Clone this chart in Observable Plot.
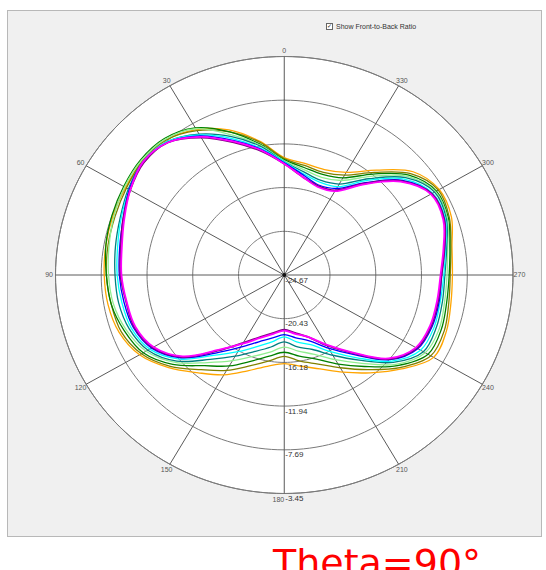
<!DOCTYPE html>
<html><head><meta charset="utf-8">
<script src="https://cdn.jsdelivr.net/npm/d3@7"></script>
<script src="https://cdn.jsdelivr.net/npm/@observablehq/plot@0.6"></script>
<style>
body{margin:0;background:#fff;width:546px;height:570px;overflow:hidden;position:relative;font-family:"Liberation Sans",Arial,sans-serif;}
#chart svg{display:block}
#title{position:absolute;left:273px;top:544px;font-family:"DejaVu Sans";font-size:38px;line-height:1;color:#ff0000;white-space:nowrap}
#cb{position:absolute;left:326px;top:23px;font-size:7px;color:#333;display:flex;align-items:center;gap:3px;white-space:nowrap}
#cb .box{width:5px;height:5px;border:1px solid #666;background:#fff;font-size:6px;line-height:5px;text-align:center;color:#222}
</style></head><body>
<div id="chart"></div>
<div id="cb"><span class="box">✓</span><span>Show Front-to-Back Ratio</span></div>
<div id="title">Theta=90°</div>
<script>
// angle (deg, counter-clockwise from top) of every sample
const angles = [0,10,20,30,40,50,60,70,80,90,100,110,120,130,140,150,160,170,180,190,200,210,220,230,240,250,260,270,280,290,300,310,320,330,340,350];
// levels are given in dB above the chart minimum
const rMin = -24.67;
const rMax = -3.45;
const ringLabels = ["-24.67","-20.43","-16.18","-11.94","-7.69","-3.45"];
const ringValues = [-24.67,-20.43,-16.18,-11.94,-7.69,-3.45];
const spokeAngles = [0,30,60,90,120,150,180,210,240,270,300,330];
const spokeLabels = ["0","30","60","90","120","150","180","210","240","270","300","330"];

const orange     = [11.4,13.2,15.0,16.3,17.1,17.2,17.0,16.9,16.8,16.7,16.6,16.3,15.5,14.0,12.4,11.2,9.9,9.0,8.6,9.0,9.7,10.9,12.4,14.2,16.0,16.0,15.7,15.6,15.8,16.5,16.6,15.6,13.3,11.5,10.9,11.0];
const olive      = [11.3,13.1,14.8,16.2,17.1,17.2,16.9,16.7,16.6,16.5,16.3,16.1,15.3,13.8,12.0,10.7,9.4,8.5,7.9,8.5,9.2,10.4,12.0,14.0,15.7,15.8,15.5,15.4,15.7,16.3,16.5,15.3,13.0,11.2,10.6,10.8];
const green      = [11.2,12.9,14.8,16.5,17.3,17.4,17.2,17.0,16.8,16.5,16.3,15.8,15.1,13.5,11.5,10.2,8.9,8.0,7.5,8.0,8.7,10.0,11.6,13.7,15.4,15.5,15.3,15.3,15.6,16.2,16.3,15.1,12.8,10.9,10.4,10.6];
const lightgreen = [11.1,12.8,14.5,16.4,17.2,17.3,17.1,16.8,16.5,16.3,16.1,15.6,14.8,13.2,11.1,9.6,8.4,7.6,7.0,7.5,8.2,9.5,11.2,13.5,15.1,15.3,15.1,15.1,15.4,16.1,16.2,14.9,12.5,10.6,10.1,10.4];
const teal       = [11.0,12.7,14.3,15.8,16.9,17.1,16.7,16.2,15.9,15.7,15.6,15.3,14.6,13.0,10.7,9.1,7.9,7.1,6.5,7.1,7.7,9.0,10.8,13.2,14.9,15.0,14.9,14.9,15.3,16.0,16.1,14.7,12.2,10.2,9.8,10.2];
const cyan       = [11.0,12.5,14.1,15.7,16.9,17.1,16.6,16.1,15.7,15.5,15.3,15.1,14.4,12.7,10.2,8.6,7.4,6.6,6.0,6.6,7.2,8.6,10.5,13.0,14.6,14.8,14.7,14.8,15.2,15.9,15.9,14.5,12.0,9.9,9.6,10.0];
const blue       = [10.9,12.4,13.9,15.6,16.8,17.1,16.6,15.9,15.5,15.3,15.1,14.9,14.2,12.5,9.9,8.1,6.9,6.2,5.8,6.2,6.8,8.2,10.1,12.8,14.3,14.6,14.6,14.6,15.1,15.8,15.8,14.3,11.7,9.7,9.3,9.9];
const purple     = [10.8,12.2,13.7,15.4,16.8,17.0,16.5,15.9,15.4,15.2,14.9,14.8,14.1,12.4,9.6,7.6,6.4,5.7,5.3,5.7,6.4,7.9,9.9,12.7,14.2,14.5,14.5,14.6,15.1,15.8,15.8,14.2,11.6,9.5,9.2,9.7];
const magenta    = [10.8,12.3,13.8,15.5,16.8,17.1,16.5,15.8,15.3,15.1,14.85,14.7,14.0,12.3,9.5,7.7,6.5,5.8,5.4,5.8,6.4,7.8,9.8,12.6,14.1,14.4,14.4,14.5,15.0,15.7,15.7,14.1,11.5,9.4,9.1,9.7];

const seriesNames = ["orange","olive","green","lightgreen","teal","cyan","blue","purple","magenta"];
const seriesValues = [orange,olive,green,lightgreen,teal,cyan,blue,purple,magenta];
const seriesColors = ["#d2762c","#a9b526","#2e9e2e","#4cc74c","#22b39c","#3aa6e6","#2c55e6","#a244e6","#e8126c"];

const R = rMax - rMin;
const rad = a => a * Math.PI / 180;
const px = (a, r) => -r * Math.sin(rad(a));
const py = (a, r) => r * Math.cos(rad(a));

const rows = seriesNames.flatMap((s, i) => angles.map((a, j) => ({series: s, a, r: seriesValues[i][j]})));
const thin = rows.filter(d => d.series !== "magenta" && d.series !== "purple");
const thick = rows.filter(d => d.series === "magenta" || d.series === "purple");

const circleSteps = d3.range(0, 361, 2);
const rings = ringValues.slice(1).flatMap(v => circleSteps.map(a => ({ring: v, a, r: v - rMin})));
const outer = circleSteps.map(a => ({a, r: R}));
const spokes = spokeAngles.map(a => ({a}));
const angLabels = spokeAngles.map((a, i) => ({a, label: spokeLabels[i]}));
const radLabels = ringValues.map((v, i) => ({r: v - rMin, label: ringLabels[i]}));

const chart = Plot.plot({
  width: 546, height: 540,
  marginLeft: 7, marginRight: 5, marginTop: 10, marginBottom: 4,
  x: {domain: [-R, R], range: [55, 512.5], axis: null},
  y: {domain: [-R, R], range: [493, 56], axis: null},
  color: {domain: seriesNames, range: seriesColors},
  style: {fontFamily: "Liberation Sans, Arial, sans-serif", background: "#fff"},
  marks: [
    Plot.frame({fill: "#f0f0f0", stroke: "#b8b8b8"}),
    Plot.line(outer, {x: d => px(d.a, d.r), y: d => py(d.a, d.r), fill: "#fff", stroke: "#7a7a7a", strokeWidth: 1, curve: "linear-closed"}),
    Plot.line(rings, {x: d => px(d.a, d.r), y: d => py(d.a, d.r), z: "ring", stroke: "#7a7a7a", strokeWidth: 1, curve: "linear-closed"}),
    Plot.link(spokes, {x1: 0, y1: 0, x2: d => px(d.a, R), y2: d => py(d.a, R), stroke: "#5a5a5a", strokeWidth: 1}),
    Plot.line(thin, {x: d => px(d.a, d.r), y: d => py(d.a, d.r), z: "series", stroke: "series", strokeWidth: 1.3, curve: "catmull-rom-closed"}),
    Plot.line(thick, {x: d => px(d.a, d.r), y: d => py(d.a, d.r), z: "series", stroke: "series", strokeWidth: 1.8, curve: "catmull-rom-closed"}),
    Plot.dot([{a: 0}], {x: 0, y: 0, r: 2, fill: "#111", stroke: null}),
    Plot.text(angLabels.filter(d => d.a !== 180), {x: d => px(d.a, R + 0.6), y: d => py(d.a, R + 0.6), text: "label", fontSize: 7, fill: "#555", textAnchor: "middle", lineAnchor: "middle"}),
    Plot.text(angLabels.filter(d => d.a === 180), {x: 0, y: d => py(d.a, R + 0.6), text: "label", fontSize: 7, fill: "#555", textAnchor: "end", lineAnchor: "middle", dx: 0}),
    Plot.text(radLabels, {x: 0, y: d => -d.r, text: "label", fontSize: 8, fill: "#333", textAnchor: "start", lineAnchor: "middle", dx: 1, dy: 5})
  ]
});
document.getElementById("chart").append(chart);
</script>
</body></html>
